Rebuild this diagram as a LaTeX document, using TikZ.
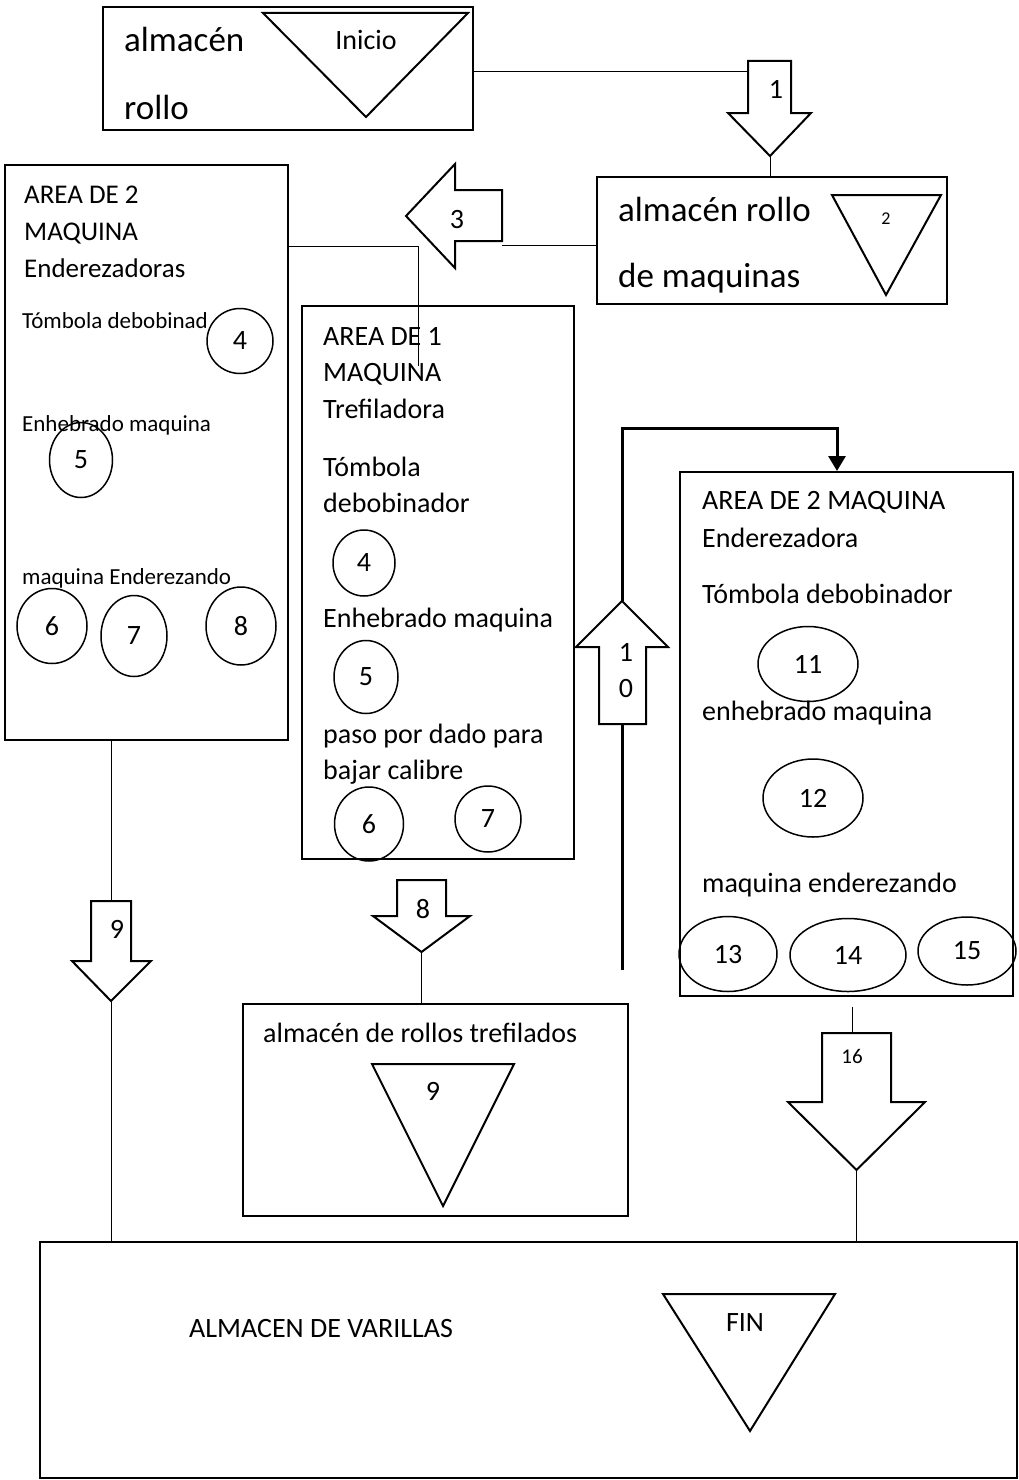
\documentclass[tikz,border=0pt]{standalone}
\usepackage{fontspec}
\setmainfont{Carlito}
\usetikzlibrary{arrows.meta,shapes.geometric}

\begin{document}
\begin{tikzpicture}[x = 1pt, y = -1pt,
    box/.style = {draw, line width = 2pt, inner sep = 0},
    ring/.style = {draw, ellipse, line width = 1.5pt, inner sep = 0, font = \fontsize{28}{34}\selectfont},
    txt/.style = {anchor = base west, inner sep = 0, font = \fontsize{28}{34}\selectfont},
    num/.style = {anchor = base, inner sep = 0, font = \fontsize{28}{34}\selectfont},
    blk/.style = {draw, line width = 2pt, line join = miter},
    link/.style = {draw, line width = 1pt},
    flow/.style = {draw, line width = 3pt, line join = miter}]
    \useasboundingbox (0,0) rectangle (1019,1480);
    \node[box, minimum width = 370pt, minimum height = 123pt] (rollo) at (288,68.5) {};
    \node[box, minimum width = 350pt, minimum height = 127pt] (rollomaq) at (772,240.5) {};
    \node[box, minimum width = 283pt, minimum height = 575pt] (ender) at (146.5,452.5) {};
    \node[box, minimum width = 272pt, minimum height = 553pt] (tref) at (438,582.5) {};
    \node[box, minimum width = 333pt, minimum height = 524pt] (enderb) at (846.5,734) {};
    \node[box, minimum width = 385pt, minimum height = 212pt] (trefst) at (435.5,1110) {};
    \node[box, minimum width = 977pt, minimum height = 236pt] (varillas) at (528.5,1360) {};
        % Triangles
    \draw[blk] (263,13) -- (468,13) -- (366,117) -- cycle;
    \draw[blk] (832,195) -- (941,195) -- (886,295) -- cycle;
    \draw[blk] (372,1064) -- (514,1064) -- (443,1206) -- cycle;
    \draw[blk] (663,1294) -- (835,1294) -- (750,1431) -- cycle;
        % Block arrows
    \coordinate (s1) at (769.5,61);
    \coordinate (t1) at (770,156);
    \coordinate (s3) at (502,215.5);
    \coordinate (t3) at (406,216);
    \coordinate (s9) at (111,901);
    \coordinate (t9) at (111,1001);
    \coordinate (s8) at (421.5,880);
    \coordinate (t8) at (421.5,952);
    \coordinate (s10) at (622,724);
    \coordinate (t10) at (622,601);
    \coordinate (s16) at (856.5,1033);
    \coordinate (t16) at (856.5,1170);
    \draw[blk] (748,61) -- (791,61) -- (791,113) -- (811,113) -- (t1) -- (728,113) -- (748,113) -- cycle;
    \draw[blk] (502,190) -- (455,190) -- (455,164) -- (t3) -- (455,268) -- (455,241) -- (502,241) -- cycle;
    \draw[blk] (91,901) -- (131,901) -- (131,961) -- (151,961) -- (t9) -- (72,961) -- (91,961) -- cycle;
    \draw[blk] (397,880) -- (446,880) -- (446,916) -- (470,916) -- (t8) -- (373,916) -- (397,916) -- cycle;
    \draw[blk] (599,724) -- (646,724) -- (646,647) -- (668,647) -- (t10) -- (576,647) -- (599,647) -- cycle;
    \draw[blk] (822,1033) -- (891,1033) -- (891,1102) -- (925,1102) -- (t16) -- (788,1102) -- (822,1102) -- cycle;
        % Connectors
    \coordinate (in1) at (748,72);
    \coordinate (in3) at (502,245);
    \coordinate (j3) at (418,246);
    \coordinate (j3end) at (418,366);
    \coordinate (f0) at (622,970);
    \coordinate (fc) at (837,428);
    \coordinate (g16) at (852,1007);
    \draw[link] (rollo.east |- in1) -- (in1);
    \draw[link] (t1) -- (t1 |- rollomaq.north);
    \draw[link] (rollomaq.west |- in3) -- (in3);
    \draw[link] (ender.east |- j3) -- (j3) -- (j3end);
    \draw[link] (ender.south -| s9) -- (s9);
    \draw[link] (t9) -- (t9 |- varillas.north);
    \draw[link] (t8) -- (t8 |- trefst.north);
    \draw[link] (g16) -- (g16 |- s16);
    \draw[link] (t16) -- (t16 |- varillas.north);
    \draw[flow] (f0) -- (s10);
    \draw[flow, -{Triangle[length = 15pt, width = 17pt]}] (t10) |- (fc) -- (fc |- enderb.north);
        % Circles
    \node[ring, minimum width = 66pt, minimum height = 65pt] (l4) at (240,341) {4};
    \node[ring, minimum width = 63pt, minimum height = 75pt] (l5) at (81,460) {5};
    \node[ring, minimum width = 70pt, minimum height = 75pt] (l6) at (52,626) {6};
    \node[ring, minimum width = 66pt, minimum height = 81pt] (l7) at (134,636) {7};
    \node[ring, minimum width = 70pt, minimum height = 78pt] (l8) at (241,626) {8};
    \node[ring, minimum width = 62pt, minimum height = 66pt] (m4) at (364,563) {4};
    \node[ring, minimum width = 64pt, minimum height = 73pt] (m5) at (366,677) {5};
    \node[ring, minimum width = 69pt, minimum height = 74pt] (m6) at (369,824) {6};
    \node[ring, minimum width = 66pt, minimum height = 66pt] (m7) at (488,819) {7};
    \node[ring, minimum width = 100pt, minimum height = 75pt] (r11) at (808,664) {11};
    \node[ring, minimum width = 100pt, minimum height = 78pt] (r12) at (813,798) {12};
    \node[ring, minimum width = 98pt, minimum height = 75pt] (r13) at (728,954) {13};
    \node[ring, minimum width = 116pt, minimum height = 73pt] (r14) at (848,955) {14};
    \node[ring, minimum width = 98pt, minimum height = 68pt] (r15) at (967,951) {15};
        % Labels
    \node[txt, font = \fontsize{35}{42}\selectfont] at (124,52) {almacén};
    \node[txt, font = \fontsize{35}{42}\selectfont] at (124,119) {rollo};
    \node[num] at (366,50) {Inicio};
    \node[txt, font = \fontsize{35}{42}\selectfont] at (618,221) {almacén rollo};
    \node[txt, font = \fontsize{35}{42}\selectfont] at (618,287) {de maquinas};
    \node[num, font = \fontsize{18}{22}\selectfont] at (886,224) {2};
    \node[txt, font = \fontsize{27}{32}\selectfont] at (24,203) {AREA DE 2};
    \node[txt, font = \fontsize{27}{32}\selectfont] at (24,240) {MAQUINA};
    \node[txt, font = \fontsize{27}{32}\selectfont] at (24,277) {Enderezadoras};
    \node[txt, font = \fontsize{23}{28}\selectfont] at (22,328) {Tómbola debobinad};
    \node[txt, font = \fontsize{23}{28}\selectfont] at (22,431) {Enhebrado maquina};
    \node[txt, font = \fontsize{23}{28}\selectfont] at (22,584) {maquina Enderezando};
    \node[txt] at (323,345) {AREA DE 1};
    \node[txt] at (323,381) {MAQUINA};
    \node[txt] at (323,418) {Trefiladora};
    \node[txt] at (323,476) {Tómbola};
    \node[txt] at (323,512) {debobinador};
    \node[txt] at (323,627) {Enhebrado maquina};
    \node[txt] at (323,743) {paso por dado para};
    \node[txt] at (323,779) {bajar calibre};
    \node[txt] at (702,509) {AREA DE 2 MAQUINA};
    \node[txt] at (702,547) {Enderezadora};
    \node[txt] at (702,603) {Tómbola debobinador};
    \node[txt] at (702,720) {enhebrado maquina};
    \node[txt] at (702,892) {maquina enderezando};
    \node[txt] at (263,1042) {almacén de rollos trefilados};
    \node[num] at (433,1100) {9};
    \node[txt] at (189,1337) {ALMACEN DE VARILLAS};
    \node[num] at (745,1331) {FIN};
    \node[num] at (776,99) {1};
    \node[num] at (457,228) {3};
    \node[num] at (117,938) {9};
    \node[num] at (423,918) {8};
    \node[num, font = \fontsize{21}{25}\selectfont] at (852,1063) {16};
    \node[num] at (626,661) {1};
    \node[num] at (626,697) {0};
  \end{tikzpicture}
\end{document}
